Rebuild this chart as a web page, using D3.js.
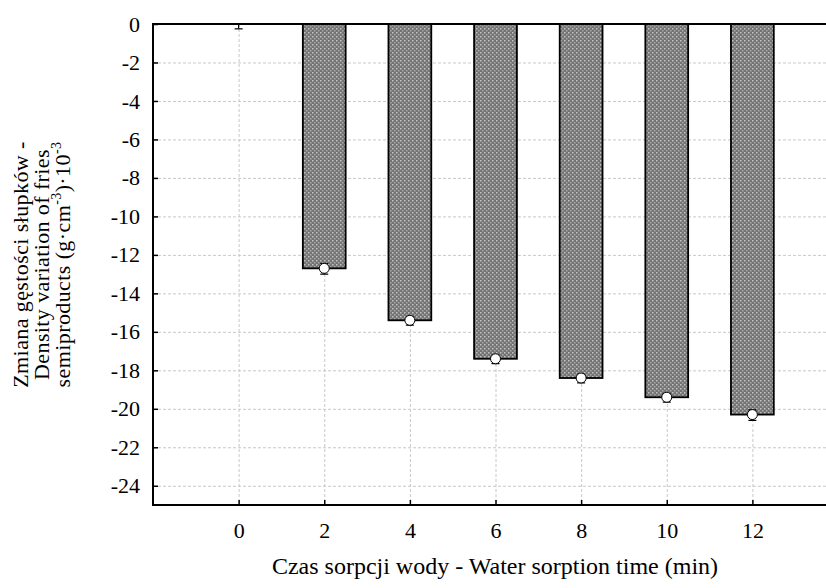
<!DOCTYPE html>
<html lang="pl">
<head>
    <meta charset="UTF-8">
    <title>Zmiana gęstości słupków</title>
    <script src="https://d3js.org/d3.v7.min.js"></script>
    <style>
        body { margin: 0; background: #fff; }
        svg { display: block; font-family: "Liberation Serif", "Times New Roman", serif; }
    </style>
</head>
<body>
<svg id="chart" width="826" height="588"></svg>
<script>
    // sorption time (min)
    const times = [0, 2, 4, 6, 8, 10, 12];
    // density variation (g·cm-3)·10-3
    const densityChange = [0, -12.7, -15.4, -17.4, -18.4, -19.4, -20.3];
    const errors = [0.2, 0.25, 0.2, 0.2, 0.2, 0.2, 0.25];
    const yTicks = [0, -2, -4, -6, -8, -10, -12, -14, -16, -18, -20, -22, -24];

    const width = 826, height = 588;
    const margin = {top: 24, left: 153, bottom: 83};
    const serif = "Liberation Serif, Times New Roman, serif";

    const svg = d3.select("#chart");

    const x = d3.scaleLinear().domain([-2, 14]).range([margin.left, 838]);
    const y = d3.scaleLinear().domain([-25, 0]).range([height - margin.bottom, margin.top]);

    // texture for bars
    const defs = svg.append("defs");
    const pat = defs.append("pattern")
        .attr("id", "dots")
        .attr("patternUnits", "userSpaceOnUse")
        .attr("width", 4).attr("height", 4);
    pat.append("rect").attr("width", 4).attr("height", 4).attr("fill", "#747474");
    pat.append("rect").attr("x", 0).attr("y", 0).attr("width", 1.5).attr("height", 1.5).attr("fill", "#c4c4c4");
    pat.append("rect").attr("x", 2).attr("y", 2).attr("width", 1.5).attr("height", 1.5).attr("fill", "#a8a8a8");

    defs.append("clipPath").attr("id", "plot")
        .append("rect")
        .attr("x", margin.left).attr("y", margin.top)
        .attr("width", width - margin.left).attr("height", y(-25) - margin.top);

    // grid
    const grid = svg.append("g")
        .attr("stroke", "#c8c8c8")
        .attr("stroke-dasharray", "3,2")
        .attr("stroke-width", 1);
    grid.selectAll("line.h")
        .data(yTicks.filter(d => d !== 0))
        .join("line")
        .attr("class", "h")
        .attr("x1", margin.left).attr("x2", width)
        .attr("y1", d => y(d) + 0.5).attr("y2", d => y(d) + 0.5);
    grid.selectAll("line.v")
        .data(times)
        .join("line")
        .attr("class", "v")
        .attr("x1", d => x(d) + 0.5).attr("x2", d => x(d) + 0.5)
        .attr("y1", y(0)).attr("y2", y(-25));

    const plot = svg.append("g").attr("clip-path", "url(#plot)");
    const pts = times.map((t, i) => ({t, v: densityChange[i], e: errors[i]}));

    // bars
    plot.selectAll("rect.bar")
        .data(pts)
        .join("rect")
        .attr("class", "bar")
        .attr("x", d => x(d.t - 0.5))
        .attr("width", d => x(d.t + 0.5) - x(d.t - 0.5))
        .attr("y", y(0))
        .attr("height", d => y(d.v) - y(0))
        .attr("fill", "url(#dots)")
        .attr("stroke", "#000")
        .attr("stroke-width", 1.8);

    // error bars
    const eb = plot.append("g").attr("stroke", "#000").attr("stroke-width", 1.2);
    eb.selectAll("line.w")
        .data(pts)
        .join("line")
        .attr("x1", d => x(d.t)).attr("x2", d => x(d.t))
        .attr("y1", d => y(d.v + d.e)).attr("y2", d => y(d.v - d.e) + 1);
    eb.selectAll("line.lo")
        .data(pts)
        .join("line")
        .attr("x1", d => x(d.t) - 4).attr("x2", d => x(d.t) + 4)
        .attr("y1", d => y(d.v - d.e) + 1).attr("y2", d => y(d.v - d.e) + 1);
    eb.selectAll("line.hi")
        .data(pts)
        .join("line")
        .attr("x1", d => x(d.t) - 4).attr("x2", d => x(d.t) + 4)
        .attr("y1", d => y(d.v + d.e)).attr("y2", d => y(d.v + d.e));

    // markers (the 0 point sits on the frame and is not shown)
    plot.selectAll("circle")
        .data(pts.filter(d => d.v !== 0))
        .join("circle")
        .attr("cx", d => x(d.t))
        .attr("cy", d => y(d.v))
        .attr("r", 5)
        .attr("fill", "#fff")
        .attr("stroke", "#000")
        .attr("stroke-width", 1);

    // axes
    const yAxis = svg.append("g")
        .attr("transform", `translate(${margin.left},0)`)
        .call(d3.axisLeft(y).tickValues(yTicks).tickFormat(d => String(d))
            .tickSizeInner(-5).tickSizeOuter(0).tickPadding(13));
    const xAxis = svg.append("g")
        .attr("transform", `translate(0,${y(-25)})`)
        .call(d3.axisBottom(x).tickValues(times).tickFormat(d => String(d))
            .tickSizeInner(-5).tickSizeOuter(0).tickPadding(17));
    [yAxis, xAxis].forEach(a => {
        a.attr("font-family", serif).attr("font-size", 22);
        a.select(".domain").remove();
        a.selectAll(".tick line").attr("stroke", "#000").attr("stroke-width", 1.5);
        a.selectAll(".tick text")
            .attr("fill", "#000")
            .attr("font-family", serif)
            .attr("font-size", 22)
            .style("font-size", "22px");
    });

    // frame lines
    const frame = svg.append("g").attr("stroke", "#000").attr("stroke-width", 2);
    frame.append("line").attr("x1", margin.left).attr("x2", margin.left).attr("y1", y(0) - 1).attr("y2", y(-25) + 1);
    frame.append("line").attr("x1", margin.left).attr("x2", width).attr("y1", y(-25)).attr("y2", y(-25));
    frame.append("line").attr("x1", margin.left).attr("x2", width).attr("y1", y(0)).attr("y2", y(0));

    // axis titles
    svg.append("text")
        .attr("x", 495).attr("y", 574)
        .attr("text-anchor", "middle")
        .attr("font-size", 24)
        .text("Czas sorpcji wody - Water sorption time (min)");

    const yt = svg.append("text")
        .attr("transform", `translate(0,${(y(0) + y(-25)) / 2}) rotate(-90)`)
        .attr("text-anchor", "middle")
        .attr("font-size", 22)
        .attr("letter-spacing", 0.4);
    yt.append("tspan").attr("x", 0).attr("y", 28).text("Zmiana gęstości słupków -");
    yt.append("tspan").attr("x", 0).attr("y", 49).text("Density variation of fries");
    const l3 = yt.append("tspan").attr("x", 0).attr("y", 70);
    l3.append("tspan").text("semiproducts (g·cm");
    l3.append("tspan").attr("dy", -9).attr("font-size", 14).text("-3");
    l3.append("tspan").attr("dy", 9).text(")·10");
    l3.append("tspan").attr("dy", -9).attr("font-size", 14).text("-3");
</script>
</body>
</html>
